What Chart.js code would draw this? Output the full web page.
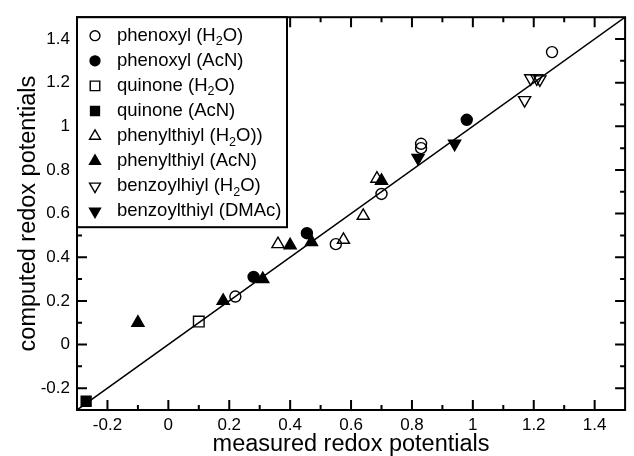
<!DOCTYPE html>
<html>
<head>
<meta charset="utf-8">
<script src="https://cdn.jsdelivr.net/npm/chart.js@4/dist/chart.umd.min.js"></script>
<style>
  html, body { margin: 0; padding: 0; background: #fff; }
  #wrap { width: 634px; height: 456px; position: relative; }
</style>
</head>
<body>
<div id="wrap"><canvas id="c"></canvas></div>
<script>
// ---- data ----
const xTickValues = [-0.2, 0, 0.2, 0.4, 0.6, 0.8, 1, 1.2, 1.4];
const xTickLabels = ['-0.2', '0', '0.2', '0.4', '0.6', '0.8', '1', '1.2', '1.4'];
const xMinorTicks = [-0.1, 0.1, 0.3, 0.5, 0.7, 0.9, 1.1, 1.3];
const yTickValues = [-0.2, 0, 0.2, 0.4, 0.6, 0.8, 1, 1.2, 1.4];
const yTickLabels = ['-0.2', '0', '0.2', '0.4', '0.6', '0.8', '1', '1.2', '1.4'];
const yMinorTicks = [-0.1, 0.1, 0.3, 0.5, 0.7, 0.9, 1.1, 1.3];

const seriesNames = [
  'phenoxyl (H₂O)', 'phenoxyl (AcN)', 'quinone (H₂O)', 'quinone (AcN)',
  'phenylthiyl (H₂O))', 'phenylthiyl (AcN)', 'benzoylhiyl (H₂O)', 'benzoylthiyl (DMAc)'
];
const phenoxylH2O = [[0.22, 0.22], [0.55, 0.46], [0.70, 0.69], [0.83, 0.90], [0.83, 0.92], [1.26, 1.34]];
const phenoxylAcN = [[0.28, 0.31], [0.455, 0.51], [0.98, 1.03]];
const quinoneH2O = [[0.10, 0.105]];
const quinoneAcN = [[-0.27, -0.26]];
const phenylthiylH2O = [[0.36, 0.46], [0.575, 0.48], [0.64, 0.59], [0.685, 0.76]];
const phenylthiylAcN = [[-0.10, 0.10], [0.18, 0.20], [0.31, 0.30], [0.40, 0.455], [0.47, 0.47], [0.70, 0.75]];
const benzoylthiylH2O = [[1.17, 1.12], [1.19, 1.22], [1.21, 1.22], [1.22, 1.215]];
const benzoylthiylDMAc = [[0.82, 0.855], [0.94, 0.92]];
const fitLine = [[-0.3, -0.3], [1.5, 1.5]];

const xRange = [-0.3, 1.5];
const yRange = [-0.3, 1.5];

// ---- chart ----
const FONT = '"Liberation Sans", Arial, Helvetica, sans-serif';
const toXY = arr => arr.map(p => ({ x: p[0], y: p[1] }));

const markerDefs = [
  { data: phenoxylH2O, style: 'circle', filled: false, radius: 5.5, rotation: 0 },
  { data: phenoxylAcN, style: 'circle', filled: true, radius: 5.5, rotation: 0 },
  { data: quinoneH2O, style: 'rect', filled: false, radius: 7.5, rotation: 0 },
  { data: quinoneAcN, style: 'rect', filled: true, radius: 7, rotation: 0 },
  { data: phenylthiylH2O, style: 'triangle', filled: false, radius: 7, rotation: 0 },
  { data: phenylthiylAcN, style: 'triangle', filled: true, radius: 7, rotation: 0 },
  { data: benzoylthiylH2O, style: 'triangle', filled: false, radius: 7, rotation: 180 },
  { data: benzoylthiylDMAc, style: 'triangle', filled: true, radius: 7, rotation: 180 }
];

const datasets = markerDefs.map((m, i) => ({
  type: 'scatter',
  label: seriesNames[i],
  data: toXY(m.data),
  pointStyle: m.style,
  pointRadius: m.radius,
  pointHoverRadius: m.radius,
  pointRotation: m.rotation,
  backgroundColor: m.filled ? '#000' : 'rgba(0,0,0,0)',
  borderColor: '#000',
  borderWidth: 1.4,
  showLine: false,
  order: 1
}));
datasets.push({
  type: 'line',
  label: 'fit',
  data: toXY(fitLine),
  borderColor: '#000',
  borderWidth: 1.5,
  pointRadius: 0,
  fill: false,
  order: 2
});

const frameAndTicks = {
  id: 'frameAndTicks',
  afterDatasetsDraw(chart) {
    const { ctx, chartArea: a, scales } = chart;
    ctx.save();
    ctx.strokeStyle = '#000';
    ctx.lineWidth = 2;
    const MAJ = 10, MIN = 5;
    const drawX = (vals, len) => vals.forEach(v => {
      const px = scales.x.getPixelForValue(v);
      ctx.beginPath();
      ctx.moveTo(px, a.bottom); ctx.lineTo(px, a.bottom - len);
      ctx.moveTo(px, a.top); ctx.lineTo(px, a.top + len);
      ctx.stroke();
    });
    const drawY = (vals, len) => vals.forEach(v => {
      const py = scales.y.getPixelForValue(v);
      ctx.beginPath();
      ctx.moveTo(a.left, py); ctx.lineTo(a.left + len, py);
      ctx.moveTo(a.right, py); ctx.lineTo(a.right - len, py);
      ctx.stroke();
    });
    drawX(xTickValues, MAJ); drawX(xMinorTicks, MIN);
    drawY(yTickValues, MAJ); drawY(yMinorTicks, MIN);
    ctx.strokeRect(a.left, a.top, a.right - a.left, a.bottom - a.top);
    ctx.restore();
  }
};

const boxLegend = {
  id: 'boxLegend',
  afterDraw(chart) {
    const { ctx, chartArea: a } = chart;
    const bx = a.left, by = a.top, bw = 210, bh = 210;
    ctx.save();
    ctx.fillStyle = '#fff';
    ctx.fillRect(bx, by, bw, bh);
    ctx.strokeStyle = '#000';
    ctx.lineWidth = 2;
    ctx.strokeRect(bx, by, bw, bh);
    const rowH = 25.1, y0 = by + 18.5, mx = bx + 18, tx = bx + 40;
    chart.data.datasets.forEach((ds, i) => {
      if (ds.type !== 'scatter') return;
      const y = y0 + i * rowH;
      ctx.fillStyle = ds.backgroundColor;
      ctx.strokeStyle = '#000';
      ctx.lineWidth = 1.4;
      Chart.helpers.drawPoint(ctx, {
        pointStyle: ds.pointStyle,
        radius: ds.pointRadius * 0.9,
        rotation: ds.pointRotation,
        borderWidth: 1.4
      }, mx, y);
      ctx.fillStyle = '#000';
      ctx.textBaseline = 'middle';
      ctx.textAlign = 'left';
      const parts = ds.label.split('₂');
      let x = tx;
      parts.forEach((p, k) => {
        ctx.font = '18.5px ' + FONT;
        ctx.fillText(p, x, y);
        x += ctx.measureText(p).width;
        if (k < parts.length - 1) {
          ctx.font = '12.5px ' + FONT;
          ctx.fillText('2', x, y + 6);
          x += ctx.measureText('2').width;
        }
      });
    });
    ctx.restore();
  }
};

new Chart(document.getElementById('c'), {
  data: { datasets },
  options: {
    responsive: true,
    maintainAspectRatio: false,
    animation: false,
    events: [],
    layout: { padding: { top: 14, right: 1, left: 0, bottom: 0 } },
    plugins: { legend: { display: false }, tooltip: { enabled: false } },
    scales: {
      x: {
        type: 'linear',
        min: xRange[0], max: xRange[1],
        afterBuildTicks: s => { s.ticks = xTickValues.map(v => ({ value: v })); },
        afterFit: s => { s.height = 46; },
        grid: { display: false, drawTicks: false },
        border: { display: false },
        ticks: {
          padding: 5,
          color: '#000',
          font: { family: FONT, size: 17 },
          maxRotation: 0,
          autoSkip: false,
          callback: v => xTickLabels[xTickValues.findIndex(t => Math.abs(t - v) < 1e-9)]
        },
        title: {
          display: true,
          text: 'measured redox potentials',
          color: '#000',
          font: { family: FONT, size: 23.5, lineHeight: 1 },
          padding: { top: 0, bottom: 0 }
        }
      },
      y: {
        type: 'linear',
        min: yRange[0], max: yRange[1],
        afterBuildTicks: s => { s.ticks = yTickValues.map(v => ({ value: v })); },
        afterFit: s => { s.width = 77; },
        grid: { display: false, drawTicks: false },
        border: { display: false },
        ticks: {
          padding: 7,
          color: '#000',
          font: { family: FONT, size: 17 },
          autoSkip: false,
          callback: v => yTickLabels[yTickValues.findIndex(t => Math.abs(t - v) < 1e-9)]
        },
        title: {
          display: true,
          text: 'computed redox potentials',
          color: '#000',
          font: { family: FONT, size: 23.5, lineHeight: 1 },
          padding: { top: 17, bottom: 0 }
        }
      }
    }
  },
  plugins: [frameAndTicks, boxLegend]
});
</script>
</body>
</html>
